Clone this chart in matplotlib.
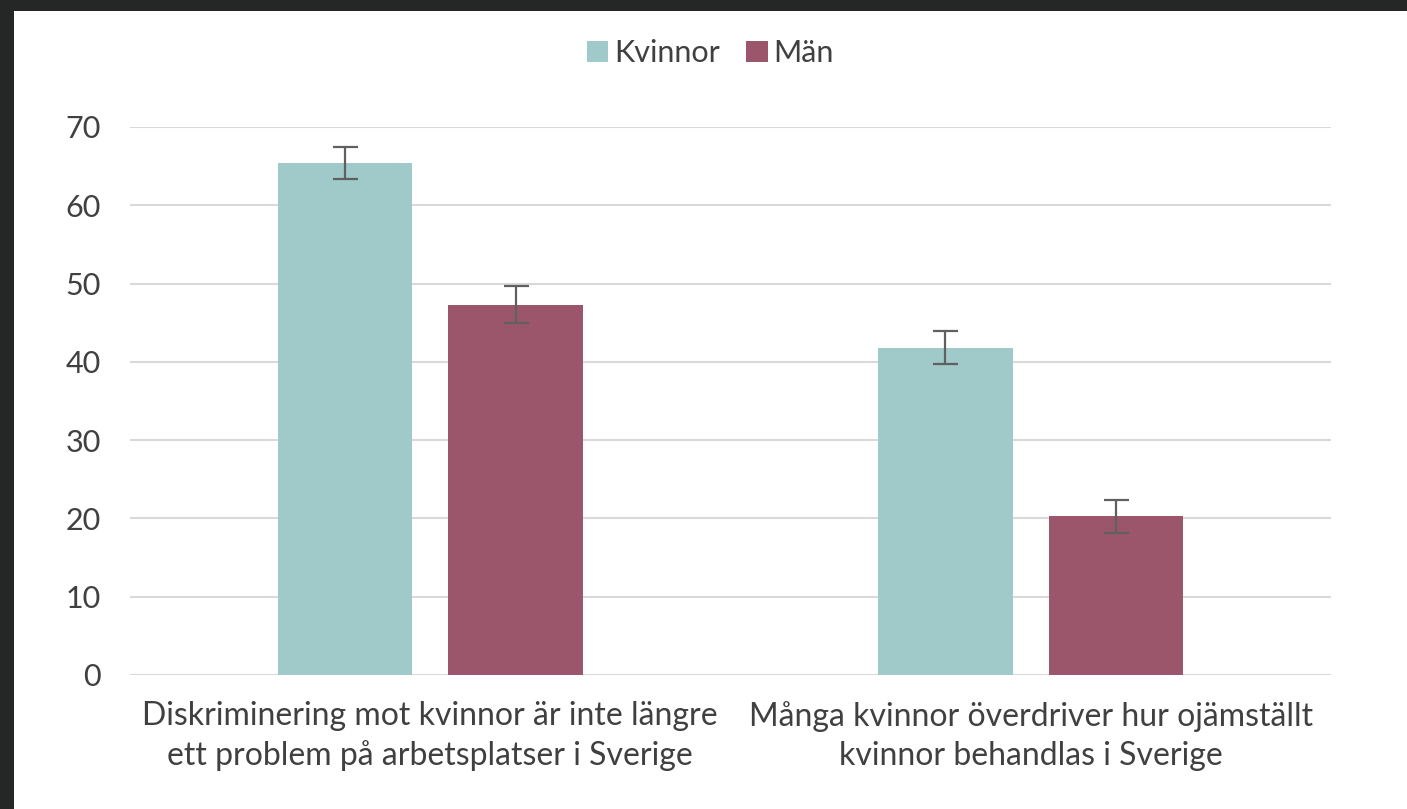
import numpy as np
import matplotlib.pyplot as plt
from matplotlib.patches import Rectangle

plt.rcParams['font.family'] = ['Lato', 'DejaVu Sans']

categories = ['Diskriminering mot kvinnor är inte längre\nett problem på arbetsplatser i Sverige',
              'Många kvinnor överdriver hur ojämställt\nkvinnor behandlas i Sverige']
kvinnor = [65.4, 41.8]
kvinnor_err = [2.1, 2.1]
man = [47.3, 20.3]
man_err = [2.4, 2.1]
yticks = [0, 10, 20, 30, 40, 50, 60, 70]

text_col = '#404040'
teal = '#a0c9c9'
maroon = '#9b566c'

fig = plt.figure(figsize=(14.07, 8.09), dpi=100)
fig.patch.set_facecolor('#252626')
fig.patches.append(Rectangle((14 / 1407, 0), 1, 1 - 11 / 809, transform=fig.transFigure,
                             facecolor='white', edgecolor='none', zorder=-10))

ax = fig.add_axes([130 / 1407, 1 - 675 / 809, 1201 / 1407, 548 / 809])
ax.set_facecolor('none')

x = np.arange(len(categories))
w = 0.224
off = 0.142
ekw = dict(ecolor='#606060', elinewidth=1.6, capsize=9, capthick=1.6)
ax.bar(x - off, kvinnor, w, yerr=kvinnor_err, color=teal, label='Kvinnor', error_kw=ekw, zorder=3)
ax.bar(x + off, man, w, yerr=man_err, color=maroon, label='Män', error_kw=ekw, zorder=3)

ax.set_xlim(-0.5, 1.5)
ax.set_ylim(0, 70)
ax.set_yticks(yticks)
ax.set_xticks(x)
ax.set_xticklabels(categories, fontsize=23, color=text_col, linespacing=1.35)
ax.tick_params(axis='y', labelsize=22, labelcolor=text_col, length=0, pad=21)
ax.tick_params(axis='x', length=0, pad=19)
ax.grid(axis='y', color='#d9d9d9', linewidth=1.5, zorder=0)
for s in ax.spines.values():
    s.set_visible(False)

leg = fig.legend(loc='center', bbox_to_anchor=(0.505, 1 - 53 / 809), ncol=2, frameon=False,
                 fontsize=22, handlelength=0.7, handleheight=0.7, handletextpad=0.2,
                 columnspacing=0.85)
for t in leg.get_texts():
    t.set_color(text_col)

fig.savefig('out.png', dpi=100, facecolor=fig.get_facecolor())
